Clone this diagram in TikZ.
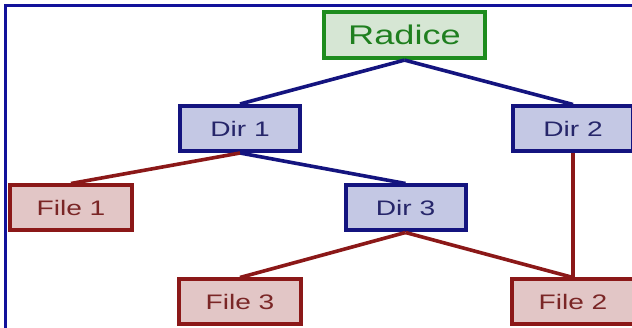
\documentclass[tikz,border=0pt]{standalone}
\usepackage{fontspec}
\setmainfont{Liberation Sans}
\newfontfamily\wideface[FakeStretch=1.34]{Liberation Sans}
\definecolor{frameblue}{HTML}{12129A}
\definecolor{rootline}{HTML}{1E8C1E}
\definecolor{rootfill}{HTML}{D6E6D4}
\definecolor{roottext}{HTML}{1F7F1F}
\definecolor{dirline}{HTML}{14147F}
\definecolor{dirfill}{HTML}{C4C8E4}
\definecolor{dirtext}{HTML}{26266A}
\definecolor{fileline}{HTML}{8B1818}
\definecolor{filefill}{HTML}{E2C6C6}
\definecolor{filetext}{HTML}{7A2626}
\tikzset{
  rootbox/.style={draw=rootline, fill=rootfill, line width=4.2pt, minimum width=161pt, minimum height=46pt, inner sep=0pt, text=roottext, font=\wideface\fontsize{27}{30}\selectfont},
  dirbox/.style={draw=dirline, fill=dirfill, line width=4pt, minimum width=120pt, minimum height=45pt, inner sep=0pt, text=dirtext, font=\wideface\fontsize{21}{25}\selectfont},
  filebox/.style={draw=fileline, fill=filefill, line width=4pt, minimum width=122pt, minimum height=45pt, inner sep=0pt, text=filetext, font=\wideface\fontsize{21}{25}\selectfont},
  diredge/.style={draw=dirline, line width=3.6pt},
  fileedge/.style={draw=fileline, line width=3.6pt},
}
\begin{document}
\begin{tikzpicture}[x=1pt,y=-1pt]
\useasboundingbox (0,0) rectangle (632,328);
\clip (0,0) rectangle (632,328);
\fill[white] (0,0) rectangle (632,328);
% frame
\coordinate (ftl) at (5,6);
\coordinate (ftr) at (640,6);
\coordinate (fbl) at (5,335);
\draw[frameblue, line width=3pt] (fbl) -- (ftl) -- (ftr);
% nodes
\node[rootbox] (radice) at (404.5,35) {Radice};
\node[dirbox] (dir1) at (240,128.5) {Dir 1};
\node[dirbox] (dir2) at (573,129) {Dir 2};
\node[dirbox] (dir3) at (405.5,208) {Dir 3};
\node[filebox] (file1) at (71,208) {File 1};
\node[filebox] (file3) at (240,302) {File 3};
\node[filebox] (file2) at (573,302) {File 2};
% connectors
\draw[diredge] (radice.south) -- (dir1.north);
\draw[diredge] (radice.south) -- (dir2.north);
\draw[diredge] (dir1.south) -- (dir3.north);
\draw[fileedge] (dir1.south) -- (file1.north);
\draw[fileedge] (dir2.south) -- (file2.north);
\draw[fileedge] (dir3.south) -- (file3.north);
\draw[fileedge] (dir3.south) -- (file2.north);
\end{tikzpicture}
\end{document}
